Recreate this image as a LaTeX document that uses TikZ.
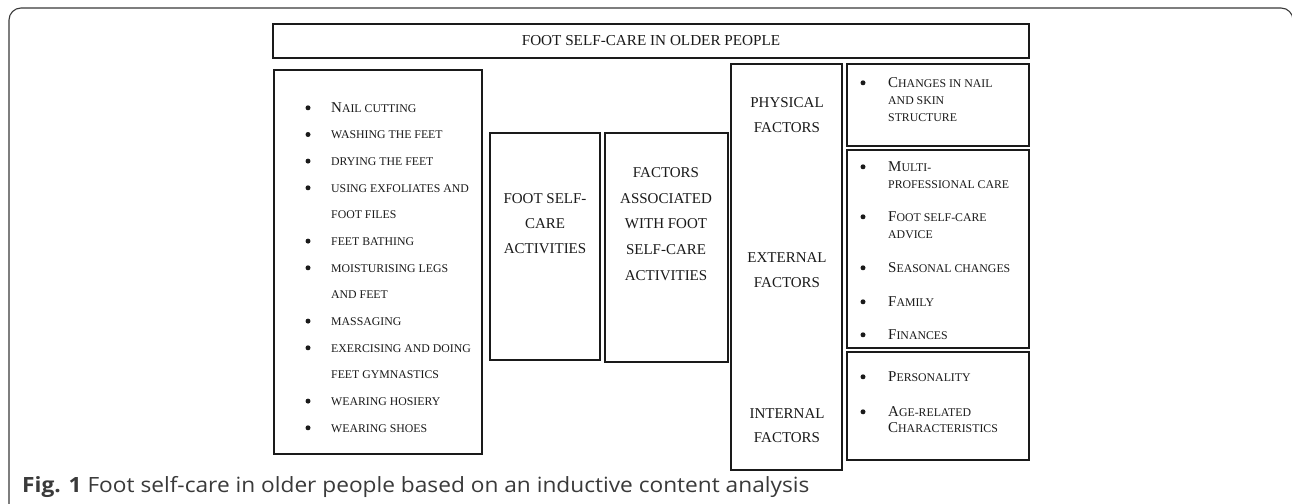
\documentclass[tikz,border=0pt]{standalone}
\usepackage{fontspec}
\setmainfont{Liberation Serif}
\newfontfamily\capsans[FakeStretch=1.08]{Open Sans}
\definecolor{ink}{HTML}{1A1A1A}
\definecolor{framegray}{HTML}{3A3A3A}
\newcommand\bg[1]{{\fontsize{15}{15}\selectfont #1}}
\tikzset{
  boxline/.style={draw=ink, line width=2.6pt},
  frameline/.style={draw=framegray, line width=1.1pt, rounded corners=12pt},
  sc/.style={anchor=base west, inner sep=0pt, text=ink, font=\fontsize{11.8}{11.8}\selectfont},
  bul/.style={circle, fill=ink, inner sep=0pt, minimum size=5pt},
  mid/.style={anchor=base, inner sep=0pt, text=ink, font=\fontsize{15}{15}\selectfont},
}
\newcommand\li[5]{% name, bullet x, text x, baseline y, text
  \node[bul] (#1b) at (#2,#4-4.2) {};
  \node[sc] (#1) at (#3,#4) {#5};}
\newcommand\lc[4]{% name, text x, baseline y, text
  \node[sc] (#1) at (#2,#3) {#4};}
\begin{document}
\begin{tikzpicture}[x=1pt,y=-1pt]
\useasboundingbox (0,0) rectangle (1292,503);
\clip (0,0) rectangle (1292,503);
\fill[white] (0,0) rectangle (1292,503);
% outer frame
\draw[frameline] (9,8) rectangle (1293,540);
% boxes
\draw[boxline] (273,24) rectangle (1029,58);
\draw[boxline] (274,70) rectangle (482,454);
\draw[boxline] (490,133) rectangle (600,360);
\draw[boxline] (605,133) rectangle (728,362);
\draw[boxline] (731,64) rectangle (842,470);
\draw[boxline] (847,64) rectangle (1029,146);
\draw[boxline] (847,150) rectangle (1029,348);
\draw[boxline] (847,352) rectangle (1029,460);
% title
\node[mid, font=\fontsize{15.2}{15.2}\selectfont] (title) at (651,46) {FOOT SELF-CARE IN OLDER PEOPLE};
% left list
\li{a1}{308}{331}{112}{\bg{N}AIL CUTTING}
\li{a2}{308}{331}{138.7}{WASHING THE FEET}
\li{a3}{308}{331}{165.3}{DRYING THE FEET}
\li{a4}{308}{331}{192}{USING EXFOLIATES AND}
\lc{a4c}{331}{218.7}{FOOT FILES}
\li{a5}{308}{331}{245.3}{FEET BATHING}
\li{a6}{308}{331}{272}{MOISTURISING LEGS}
\lc{a6c}{331}{298.7}{AND FEET}
\li{a7}{308}{331}{325.3}{MASSAGING}
\li{a8}{308}{331}{352}{EXERCISING AND DOING}
\lc{a8c}{331}{378.7}{FEET GYMNASTICS}
\li{a9}{308}{331}{405.3}{WEARING HOSIERY}
\li{a10}{308}{331}{432}{WEARING SHOES}
% foot self-care activities
\node[mid] (act1) at (545,203) {FOOT SELF-};
\node[mid] (act2) at (545,228) {CARE};
\node[mid] (act3) at (545,253) {ACTIVITIES};
% factors associated
\node[mid] (fa1) at (666,177) {FACTORS};
\node[mid] (fa2) at (666,203) {ASSOCIATED};
\node[mid] (fa3) at (666,228) {WITH FOOT};
\node[mid] (fa4) at (666,254) {SELF-CARE};
\node[mid] (fa5) at (666,280) {ACTIVITIES};
% factor column
\node[mid] (c1) at (787,107) {PHYSICAL};
\node[mid] (c2) at (787,132) {FACTORS};
\node[mid] (c3) at (787,262) {EXTERNAL};
\node[mid] (c4) at (787,287) {FACTORS};
\node[mid] (c5) at (787,418) {INTERNAL};
\node[mid] (c6) at (787,442) {FACTORS};
% physical
\li{p1}{863}{888}{87}{\bg{C}HANGES IN NAIL}
\lc{p1b}{888}{104}{AND SKIN}
\lc{p1c}{888}{121}{STRUCTURE}
% external
\li{e1}{863}{888}{171}{\bg{M}ULTI-}
\lc{e1b}{888}{188}{PROFESSIONAL CARE}
\li{e2}{863}{888}{221}{\bg{F}OOT SELF-CARE}
\lc{e2b}{888}{238}{ADVICE}
\li{e3}{863}{888}{272}{\bg{S}EASONAL CHANGES}
\li{e4}{863}{888}{306}{\bg{F}AMILY}
\li{e5}{863}{888}{339}{\bg{F}INANCES}
% internal
\li{i1}{863}{888}{381}{\bg{P}ERSONALITY}
\li{i2}{863}{888}{416}{\bg{A}GE-RELATED}
\lc{i2b}{888}{432}{\bg{C}HARACTERISTICS}
% caption
\node[anchor=base west, inner sep=0pt, text=framegray, font=\capsans\fontsize{21}{21}\selectfont] (cap) at (22,492) {\textbf{Fig. 1} Foot self-care in older people based on an inductive content analysis};
\end{tikzpicture}
\end{document}
